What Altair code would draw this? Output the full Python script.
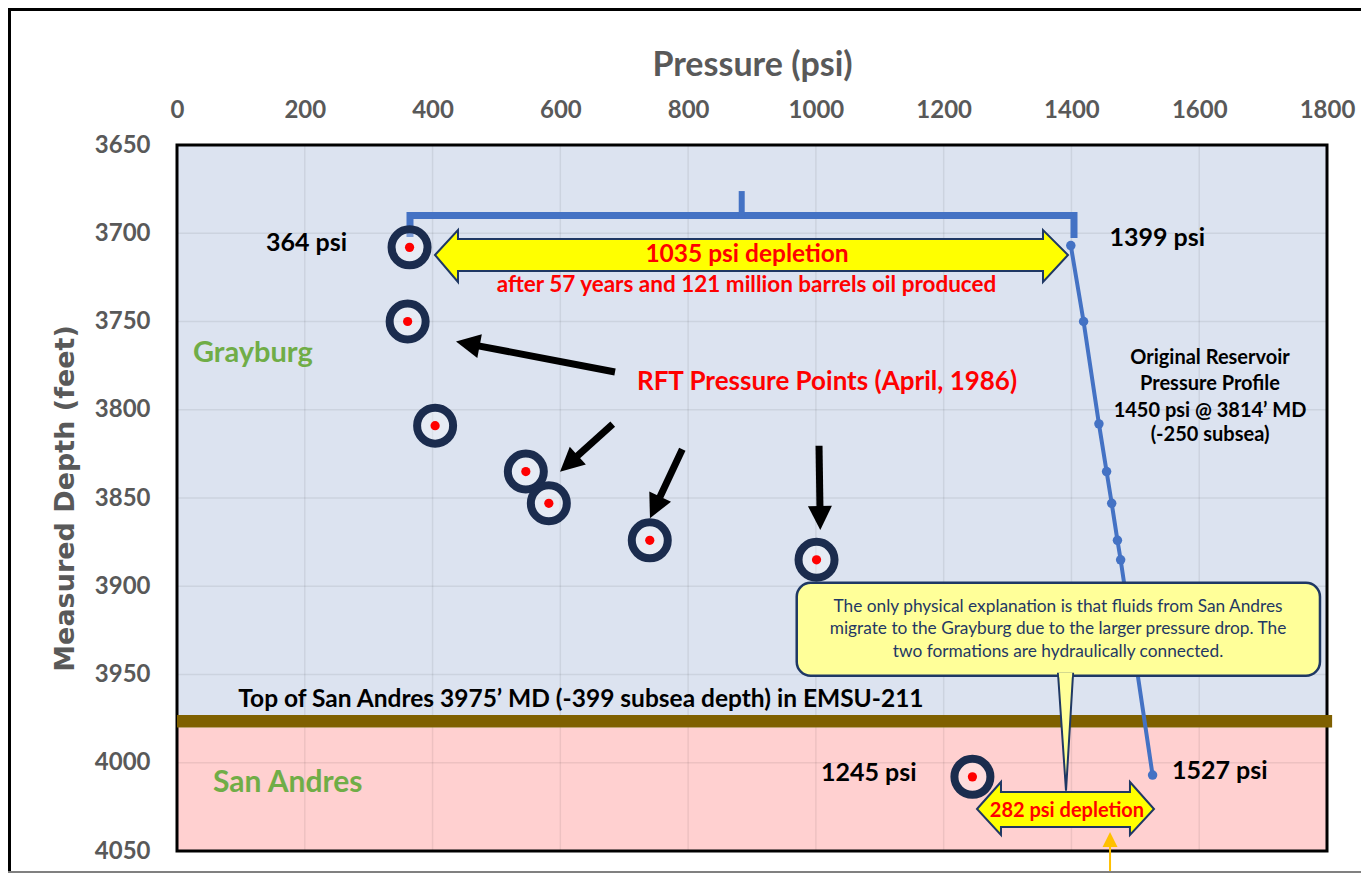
import math
import altair as alt
import pandas as pd

# ---------------- data ----------------
x_ticks = [0, 200, 400, 600, 800, 1000, 1200, 1400, 1600, 1800]
y_ticks = [3650, 3700, 3750, 3800, 3850, 3900, 3950, 4000, 4050]

# RFT pressure points (April, 1986)
rft_pressure = [364, 361, 404, 546, 582, 740, 1001, 1245]
rft_depth = [3708, 3750, 3809, 3835, 3853, 3874, 3885, 4008]

# original reservoir pressure profile
orig_pressure = [1399, 1419, 1443, 1455, 1463, 1472, 1477, 1527]
orig_depth = [3707, 3750, 3808, 3835, 3853, 3874, 3885, 4007]

# formation zones (depth, feet)
grayburg_zone = [3650, 3973]
contact_zone = [3973, 3980]
san_andres_zone = [3980, 4050]

# black pointer arrows (data coords: tail -> tip)
arrow_tail_x = [685.6, 682.0, 790.9, 1004.9]
arrow_tail_y = [3778.6, 3808.1, 3822.4, 3820.4]
arrow_tip_x = [436.7, 599.5, 740.3, 1006.9]
arrow_tip_y = [3761.4, 3835.1, 3861.5, 3868.1]

# ---------------- layout / style ----------------
W, H = 1150, 706
X_MIN, X_MAX = 0, 1800
Y_MIN, Y_MAX = 3650, 4050
KX = W / (X_MAX - X_MIN)
KY = H / (Y_MAX - Y_MIN)

BLUE_BG = "#dce3f0"
PINK_BG = "#ffd0d0"
BROWN = "#7f6000"
LINE_BLUE = "#4472c4"
NAVY = "#1f3864"
RING = "#1b2c4e"
RED = "#ff0000"
GREEN = "#70ad47"
GRAY = "#595959"

xs = alt.Scale(domain=[X_MIN, X_MAX], nice=False, zero=False)
ys = alt.Scale(domain=[Y_MIN, Y_MAX], nice=False, zero=False, reverse=True)

x_axis = alt.Axis(
    orient="top", values=x_ticks, format="d", grid=False, ticks=False, domain=False,
    labelFont="Lato", labelFontWeight="bold", labelFontSize=24, labelColor=GRAY,
    labelPadding=23, labelFlush=False, labelOverlap=False,
    title="Pressure (psi)", titleFont="Lato", titleFontWeight="bold",
    titleFontSize=34, titleColor=GRAY, titleY=-80, titleBaseline="middle",
)
y_axis = alt.Axis(
    orient="left", values=y_ticks, format="d", grid=False, ticks=False, domain=False,
    labelFont="Lato", labelFontWeight="bold", labelFontSize=24, labelColor=GRAY,
    labelPadding=27, labelFlush=False, labelOverlap=False,
    title="Measured Depth (feet)", titleFont="DejaVu Sans", titleFontWeight="bold",
    titleFontSize=27, titleColor=GRAY, titleX=-112, titleY=H / 2,
    titleBaseline="middle", titleAngle=270,
)


def X(f):
    return alt.X(f, type="quantitative", scale=xs, axis=x_axis)


def Y(f):
    return alt.Y(f, type="quantitative", scale=ys, axis=y_axis)


one = pd.DataFrame({"k": [0]})

# ---------------- background ----------------
zones = pd.DataFrame({
    "x": [X_MIN, X_MIN], "x2": [X_MAX, X_MAX],
    "y": [grayburg_zone[0], san_andres_zone[0]],
    "y2": [grayburg_zone[1], san_andres_zone[1]],
    "c": [BLUE_BG, PINK_BG],
})
zone_layer = alt.Chart(zones).mark_rect(strokeWidth=0).encode(
    x=X("x"), x2="x2", y=Y("y"), y2="y2", color=alt.Color("c:N", scale=None)
)

vgrid = alt.Chart(pd.DataFrame({"x": x_ticks})).mark_rule(
    color="black", opacity=0.07, strokeWidth=1.5
).encode(x=X("x"), y=alt.value(0), y2=alt.value(H))
hgrid = alt.Chart(pd.DataFrame({"y": y_ticks})).mark_rule(
    color="black", opacity=0.07, strokeWidth=1.5
).encode(y=Y("y"), x=alt.value(0), x2=alt.value(W))

border = alt.Chart(one).mark_rect(
    fill="transparent", stroke="black", strokeWidth=3
).encode(x=alt.value(0), x2=alt.value(W), y=alt.value(0), y2=alt.value(H))

band = alt.Chart(pd.DataFrame({
    "x": [X_MIN], "x2": [X_MAX + 8], "y": [contact_zone[0]], "y2": [contact_zone[1]]
})).mark_rect(color=BROWN).encode(x=X("x"), x2="x2", y=Y("y"), y2="y2")

# ---------------- bracket ----------------
bracket = alt.Chart(pd.DataFrame({
    "i": [0, 1, 2, 3],
    "x": [364.7, 364.7, 1404.0, 1404.0],
    "y": [3702.1, 3689.9, 3689.9, 3702.7],
})).mark_line(color=LINE_BLUE, strokeWidth=7, strokeJoin="miter", strokeCap="butt").encode(
    x=X("x"), y=Y("y"), order="i:Q"
)
bracket_tick = alt.Chart(pd.DataFrame({"x": [883.9], "y": [3691.5], "y2": [3676.1]})).mark_rule(
    color=LINE_BLUE, strokeWidth=6
).encode(x=X("x"), y=Y("y"), y2="y2")


# ---------------- double arrows ----------------
def double_arrow(xl, xlb, xrb, xr, yc, yht, yhb, yst, ysb):
    e = 0.01
    return pd.DataFrame({
        "x": [xl, xlb, xlb + e, xrb - e, xrb, xr],
        "y": [yc, yht, yst, yst, yht, yc],
        "y2": [yc, yhb, ysb, ysb, yhb, yc],
    })


arrow1 = alt.Chart(double_arrow(403.8, 439.8, 1355.5, 1394.6,
                                3712.3, 3698.2, 3727.6, 3703.3, 3721.4)).mark_area(
    orient="vertical", fill="#ffff00", stroke=NAVY, strokeWidth=2, strokeJoin="miter"
).encode(x=X("x"), y=Y("y"), y2="y2")

arrow2 = alt.Chart(double_arrow(1252.2, 1289.7, 1491.6, 1529.2,
                                4026.2, 4010.9, 4040.9, 4016.6, 4036.4)).mark_area(
    orient="vertical", fill="#ffff00", stroke=NAVY, strokeWidth=2, strokeJoin="miter"
).encode(x=X("x"), y=Y("y"), y2="y2")

# ---------------- original profile ----------------
prof_df = pd.DataFrame({"i": range(len(orig_pressure)), "p": orig_pressure, "d": orig_depth})
prof_line = alt.Chart(prof_df).mark_line(color=LINE_BLUE, strokeWidth=4).encode(
    x=X("p"), y=Y("d"), order="i:Q"
)
prof_pts = alt.Chart(prof_df).mark_circle(color=LINE_BLUE, size=90, opacity=1).encode(
    x=X("p"), y=Y("d")
)

# ---------------- RFT points ----------------
rft_df = pd.DataFrame({"p": rft_pressure, "d": rft_depth})
rings = alt.Chart(rft_df).mark_point(
    shape="circle", size=1296, filled=True, fill="#ffffff", fillOpacity=0.3,
    stroke=RING, strokeWidth=8, opacity=1
).encode(x=X("p"), y=Y("d"))
dots = alt.Chart(rft_df).mark_circle(color=RED, size=85, opacity=1).encode(
    x=X("p"), y=Y("d")
)

# ---------------- black pointer arrows ----------------
HEAD = 24.0
rows = []
for tx, ty, hx, hy in zip(arrow_tail_x, arrow_tail_y, arrow_tip_x, arrow_tip_y):
    dxp = (hx - tx) * KX
    dyp = (hy - ty) * KY
    L = math.hypot(dxp, dyp)
    ang = math.degrees(math.atan2(dyp, dxp)) % 360
    f = (L - 16.0) / L
    rows.append({
        "tx": tx, "ty": ty, "hx": hx, "hy": hy,
        "ex": tx + (hx - tx) * f, "ey": ty + (hy - ty) * f, "ang": ang,
    })
arr_df = pd.DataFrame(rows)
shafts = alt.Chart(arr_df).mark_rule(color="black", strokeWidth=7).encode(
    x=X("tx"), y=Y("ty"), x2="ex", y2="ey"
)
heads = alt.Chart(arr_df).mark_point(
    shape="M0,0L-2,-1L-2,1Z", size=HEAD * HEAD, filled=True, color="black",
    opacity=1, strokeWidth=0
).encode(x=X("hx"), y=Y("hy"), angle=alt.Angle("ang:Q", scale=None))

# ---------------- callout ----------------
callout_box = alt.Chart(pd.DataFrame({
    "x": [970.0], "x2": [1789.0], "y": [3898.0], "y2": [3950.7]
})).mark_rect(cornerRadius=14, fill="#ffff99", stroke=NAVY, strokeWidth=2.5).encode(
    x=X("x"), x2="x2", y=Y("y"), y2="y2"
)
pointer = alt.Chart(pd.DataFrame({
    "y": [3949.6, 4015.8], "x": [1379.0, 1391.5], "x2": [1402.5, 1391.5]
})).mark_area(orient="horizontal", fill="#ffff99", stroke=NAVY, strokeWidth=2).encode(
    y=Y("y"), x=X("x"), x2="x2"
)
pointer_gap = alt.Chart(pd.DataFrame({
    "y": [3949.0, 3951.5], "x": [1380.2, 1380.6], "x2": [1401.3, 1400.9]
})).mark_area(orient="horizontal", fill="#ffff99").encode(
    y=Y("y"), x=X("x"), x2="x2"
)

# ---------------- orange arrow ----------------
orange_shaft = alt.Chart(pd.DataFrame({"x": [1460.4], "y": [4070.0], "y2": [4046.0]})).mark_rule(
    color="#ffc000", strokeWidth=2
).encode(x=X("x"), y=Y("y"), y2="y2")
orange_head = alt.Chart(pd.DataFrame({"x": [1460.4], "y": [4039.2]})).mark_point(
    shape="M0,0L-2,-1L-2,1Z", size=225, filled=True, color="#ffc000", opacity=1,
    strokeWidth=0, angle=270
).encode(x=X("x"), y=Y("y"))

# ---------------- texts ----------------
t_left = pd.DataFrame([
    {"x": 1459.6, "y": 3702.7, "t": "1399 psi", "s": 25, "c": "black"},
    {"x": 1557.4, "y": 4004.7, "t": "1527 psi", "s": 25, "c": "black"},
    {"x": 25.0, "y": 3767.9, "t": "Grayburg", "s": 29, "c": GREEN},
    {"x": 56.3, "y": 4011.3, "t": "San Andres", "s": 30, "c": GREEN},
    {"x": 96.0, "y": 3964.4, "t": "Top of San Andres 3975’ MD (-399 subsea depth) in EMSU-211",
     "s": 24.5, "c": "black"},
])
t_right = pd.DataFrame([
    {"x": 266.1, "y": 3705.5, "t": "364 psi", "s": 25, "c": "black"},
    {"x": 1157.5, "y": 4005.8, "t": "1245 psi", "s": 25, "c": "black"},
])
t_center = pd.DataFrame([
    {"x": 892.2, "y": 3712.3, "t": "1035 psi depletion", "s": 24.5, "c": RED},
    {"x": 891.4, "y": 3729.3, "t": "after 57 years and 121 million barrels oil produced",
     "s": 22.5, "c": RED},
    {"x": 1017.4, "y": 3784.1, "t": "RFT Pressure Points (April, 1986)", "s": 26, "c": RED},
    {"x": 1616.9, "y": 3770.7, "t": "Original Reservoir", "s": 20, "c": "black"},
    {"x": 1616.9, "y": 3785.4, "t": "Pressure Profile", "s": 20, "c": "black"},
    {"x": 1616.9, "y": 3800.5, "t": "1450 psi @ 3814’ MD", "s": 20, "c": "black"},
    {"x": 1616.9, "y": 3814.3, "t": "(-250 subsea)", "s": 20, "c": "black"},
    {"x": 1393.0, "y": 4027.2, "t": "282 psi depletion", "s": 20, "c": RED},
])
t_callout = pd.DataFrame([
    {"x": 1379.0, "y": 3911.8, "t": "The only physical explanation is that fluids from San Andres",
     "s": 17.3, "c": NAVY},
    {"x": 1379.0, "y": 3924.2, "t": "migrate to the Grayburg due to the larger pressure drop.  The",
     "s": 17.3, "c": NAVY},
    {"x": 1379.0, "y": 3937.3, "t": "two formations are hydraulically connected.", "s": 17.3, "c": NAVY},
])


def text_layer(df, align, weight="bold"):
    return alt.Chart(df).mark_text(
        align=align, baseline="middle", font="Lato", fontWeight=weight
    ).encode(
        x=X("x"), y=Y("y"), text="t:N",
        size=alt.Size("s:Q", scale=None), color=alt.Color("c:N", scale=None)
    )


# ---------------- outer frame ----------------
frame_top = alt.Chart(one).mark_rule(color="black", strokeWidth=3).encode(
    x=alt.value(-169), x2=alt.value(W + 40), y=alt.value(-135.5)
)
frame_left = alt.Chart(one).mark_rule(color="black", strokeWidth=3).encode(
    x=alt.value(-167.5), y=alt.value(-137), y2=alt.value(H + 30)
)
frame_bottom = alt.Chart(one).mark_rule(color="#808080", strokeWidth=2).encode(
    x=alt.value(-169), x2=alt.value(W + 40), y=alt.value(H + 21)
)

chart = alt.layer(
    zone_layer, vgrid, hgrid, border, band,
    bracket, bracket_tick, arrow1,
    prof_line, prof_pts,
    rings, dots,
    shafts, heads,
    callout_box, pointer, pointer_gap,
    arrow2,
    text_layer(t_left, "left"), text_layer(t_right, "right"),
    text_layer(t_center, "center"), text_layer(t_callout, "center", "normal"),
    orange_shaft, orange_head,
    frame_top, frame_left, frame_bottom,
).properties(
    width=W, height=H,
    autosize=alt.AutoSizeParams(type="none"),
    padding={"left": 169, "top": 137, "right": 34, "bottom": 22},
    background="white",
).configure_view(strokeWidth=0)

chart.save("out.html", embed_options={"renderer": "svg", "actions": False})
